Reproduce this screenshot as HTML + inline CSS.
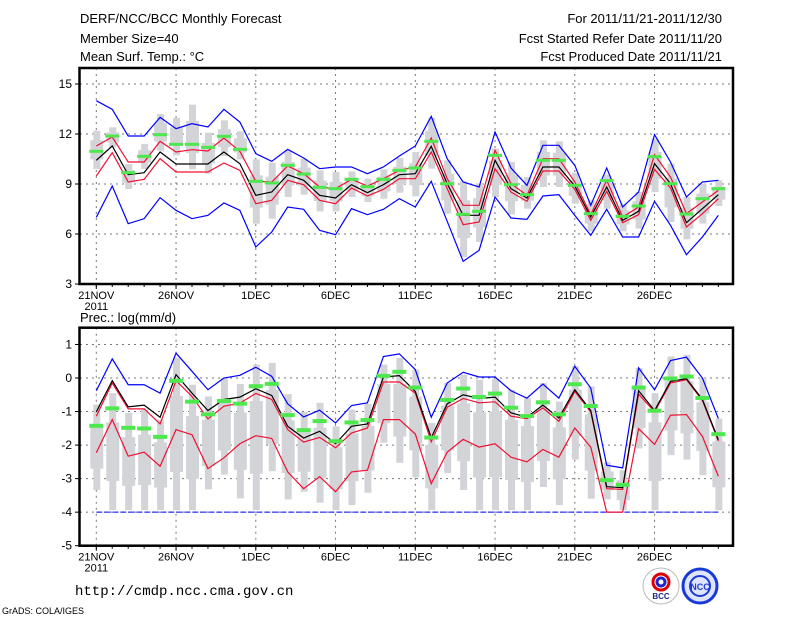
<!DOCTYPE html>
<html><head><meta charset="utf-8"><style>
body{margin:0;background:#fff;width:800px;height:618px;overflow:hidden}
svg{display:block;font-family:"Liberation Sans",sans-serif}
</style></head><body>
<svg id="c" width="800" height="618" viewBox="0 0 800 618">
<text x="80" y="23" font-size="13">DERF/NCC/BCC Monthly Forecast</text>
<text x="80" y="43" font-size="13">Member Size=40</text>
<text x="80" y="61" font-size="13">Mean Surf. Temp.: °C</text>
<text x="722" y="23" font-size="13" text-anchor="end">For 2011/11/21-2011/12/30</text>
<text x="722" y="43" font-size="13" text-anchor="end">Fcst Started Refer Date 2011/11/20</text>
<text x="722" y="61" font-size="13" text-anchor="end">Fcst Produced Date 2011/11/21</text>
<text x="80" y="322" font-size="13">Prec.: log(mm/d)</text>
<text x="75" y="595" font-size="14" font-family="Liberation Mono,monospace">http://cmdp.ncc.cma.gov.cn</text>
<text x="2" y="614" font-size="9">GrADS: COLA/IGES</text>
<g>
<circle cx="661" cy="586" r="18" fill="#fff" stroke="#bbb"/>
<circle cx="661" cy="582" r="8" fill="none" stroke="#d00" stroke-width="3"/>
<circle cx="661" cy="582" r="4" fill="none" stroke="#22c" stroke-width="3"/>
<text x="661" y="599" font-size="8" font-weight="bold" text-anchor="middle" fill="#1a2a8a">BCC</text></g>
<g>
<circle cx="700" cy="586" r="17" fill="#dfe5ff" stroke="#1a3ad8" stroke-width="3"/>
<circle cx="700" cy="586" r="10" fill="none" stroke="#1a3ad8" stroke-width="2"/>
<text x="700" y="590" font-size="9" font-weight="bold" text-anchor="middle" fill="#1a3ad8">NCC</text></g>
</svg>
<script>
const days=["21NOV","26NOV","1DEC","6DEC","11DEC","16DEC","21DEC","26DEC"];
const tBlueTop=[14.0,13.48,11.88,11.88,13.0,12.32,12.62,12.42,13.48,12.72,10.82,10.36,11.08,10.56,9.92,10.02,10.02,9.62,10.02,10.68,11.28,13.06,10.52,9.12,8.82,12.12,9.96,8.92,11.32,11.32,10.12,7.72,9.96,7.62,8.52,11.96,10.32,8.22,9.12,9.22];
const tRedTop=[11.28,11.82,10.32,10.32,11.56,10.92,11.06,10.98,11.76,10.96,9.16,9.12,10.08,9.62,8.82,8.72,9.28,8.88,9.32,9.82,10.02,11.76,9.32,7.72,7.72,11.02,9.02,8.32,10.52,10.52,9.12,7.16,9.22,7.02,7.62,10.76,9.42,7.22,7.92,8.62];
const tMean=[10.42,11.28,9.56,9.68,10.92,10.2,10.2,10.2,10.92,10.22,8.32,8.52,9.56,9.22,8.32,8.16,8.96,8.48,8.96,9.56,9.62,11.26,9.02,7.12,7.12,10.42,8.72,8.16,10.02,10.02,8.88,7.02,8.82,6.82,7.36,10.22,9.02,6.68,7.52,8.36];
const tRedBot=[9.48,10.88,9.12,9.28,10.52,9.72,9.72,9.72,10.26,9.82,7.82,8.02,9.22,8.96,8.02,7.82,8.76,8.28,8.68,9.32,9.32,10.92,8.72,6.56,6.72,9.92,8.52,7.96,9.78,9.78,8.68,6.82,8.56,6.68,7.16,9.88,8.76,6.42,7.22,8.12];
const tBlueBot=[7.0,8.88,6.62,6.92,8.18,7.42,6.92,7.12,7.86,7.42,5.22,6.12,7.62,7.48,6.22,5.96,7.52,7.16,7.48,8.12,7.62,9.16,6.76,4.36,5.02,8.22,6.96,6.88,8.28,8.36,7.12,5.92,7.48,5.82,5.82,7.96,6.52,4.76,5.82,7.12];
const tObs=[10.96,11.88,9.68,10.66,11.96,11.38,11.38,11.2,11.86,11.08,9.16,9.06,10.12,9.6,8.8,8.72,9.28,8.84,9.28,9.82,9.96,11.56,9.02,7.18,7.36,10.72,8.96,8.36,10.42,10.42,8.92,7.22,9.2,7.06,7.68,10.64,9.02,7.2,8.12,8.72];
const tBarHi=[12.2,12.4,10.2,11.4,13.2,12.96,13.76,12.08,12.82,12.16,10.48,10.28,11.02,10.52,9.82,9.72,9.76,9.32,9.88,10.56,10.92,12.96,10.42,9.16,9.02,11.12,10.32,9.42,11.62,11.56,9.68,8.02,9.56,7.82,8.52,11.72,10.22,8.22,9.02,9.22];
const tBarLo=[9.9,11.2,8.7,9.9,11.0,10.72,9.88,9.62,10.68,10.48,6.62,6.92,8.22,8.36,7.36,7.36,8.22,7.92,8.12,8.48,8.26,9.92,7.22,4.62,5.52,8.22,7.18,7.52,8.82,8.82,7.82,6.16,7.52,6.16,6.32,8.52,6.72,5.68,6.62,7.68];
const pBlueTop=[-0.38,0.57,-0.2,-0.2,-0.45,0.74,0.2,-0.35,0,0.08,0.32,0.05,-0.77,-1.16,-0.96,-1.34,-0.82,-0.74,0.64,0.72,0.25,-1.17,-0.15,0.17,0.03,0.03,-0.38,-0.6,-0.18,-0.6,0.35,-0.3,-2.6,-2.68,0.3,-0.35,0.52,0.62,0,-1.21];
const pMean=[-1.01,-0.08,-0.86,-0.81,-1.17,0.1,-0.45,-0.97,-0.64,-0.57,-0.32,-0.52,-1.44,-1.79,-1.59,-1.96,-1.44,-1.37,0.03,0.07,-0.4,-1.78,-0.77,-0.5,-0.61,-0.57,-1.04,-1.17,-0.81,-1.19,-0.35,-0.97,-3.24,-3.27,-0.38,-0.97,-0.1,-0.02,-0.64,-1.84];
const pRedTop=[-1.14,-0.15,-0.92,-0.92,-1.37,-0.08,-0.55,-1.22,-0.84,-0.75,-0.46,-0.64,-1.54,-1.91,-1.77,-2.08,-1.64,-1.49,-0.12,-0.12,-0.45,-1.9,-0.87,-0.61,-0.74,-0.71,-1.14,-1.21,-0.89,-1.29,-0.4,-1.01,-3.3,-3.32,-0.48,-1.01,-0.15,-0.05,-0.67,-1.88];
const pRedBot=[-2.23,-1.24,-2.33,-2.21,-2.63,-1.54,-1.69,-2.7,-2.38,-1.96,-1.72,-1.8,-2.8,-3.3,-2.94,-3.39,-2.8,-2.75,-1.24,-1.24,-1.67,-3.15,-2.21,-1.83,-2.06,-1.96,-2.36,-2.5,-2.13,-2.36,-1.49,-2.06,-4,-4,-1.51,-1.98,-1.11,-1.09,-1.74,-2.93];
const pObs=[-1.41,-0.89,-1.47,-1.49,-1.74,-0.07,-0.69,-1.07,-0.67,-0.75,-0.23,-0.16,-1.09,-1.54,-1.27,-1.87,-1.31,-1.24,0.08,0.2,-0.27,-1.76,-0.64,-0.3,-0.55,-0.45,-0.87,-1.12,-0.71,-1.07,-0.17,-0.82,-3.03,-3.17,-0.27,-0.96,0,0.06,-0.58,-1.66];
const pBarHi=[-0.79,-0.45,-1.04,-0.94,-1.24,0.6,-0.2,-0.55,0,-0.18,0.4,0.45,-0.48,-1.01,-0.74,-1.44,-0.94,-0.77,0.4,0.6,0.25,-1.34,-0.15,0.1,-0.05,-0.02,-0.35,-0.6,-0.15,-0.7,0.35,-0.25,-2.51,-2.75,0.3,-0.45,0.64,0.69,0,-1.21];
const pBarLo=[-3.34,-3.94,-3.94,-3.94,-3.94,-3.94,-3.94,-3.32,-2.88,-3.59,-3.94,-2.78,-3.62,-3.39,-3.72,-3.94,-3.79,-3.42,-1.93,-2.53,-2.96,-3.94,-2.83,-3.34,-3.94,-3.94,-3.94,-3.94,-3.25,-3.79,-2.43,-3.6,-3.62,-3.94,-2.1,-3.94,-2.3,-2.43,-2.9,-3.94];
const tTicks=[3,6,9,12,15];
const pTicks=[-5,-4,-3,-2,-1,0,1];

const S=document.getElementById('c');const NS='http://www.w3.org/2000/svg';
function mk(t,a,p){const e=document.createElementNS(NS,t);for(const k in a)e.setAttribute(k,a[k]);(p||S).appendChild(e);return e;}
const x=d=>96.3+15.95*d;
function panel(name,top,bot,vmin,vmax,ticks,series){
  const y=v=>bot-(v-vmin)/(vmax-vmin)*(bot-top);
  const g=mk('g',{});
  
  
  ticks.forEach(t=>{const yy=y(t);
    if(t>vmin&&t<vmax){const l=mk('line',{x1:80,x2:733,y1:yy,y2:yy,stroke:'#777','stroke-dasharray':'2,4'},g);}
    mk('line',{x1:75,x2:80,y1:yy,y2:yy,stroke:'#000'},g);
    const tx=mk('text',{x:72,y:yy+4,'font-size':12,'text-anchor':'end'},g);tx.textContent=t;
    
    });
  days.forEach((dl,i)=>{const xx=x(i*5);
    const l=mk('line',{x1:xx,x2:xx,y1:top,y2:bot,stroke:'#777','stroke-dasharray':'2,4'},g);
    
    
    mk('line',{x1:xx,x2:xx,y1:bot,y2:bot+5,stroke:'#000'},g);
    const tx=mk('text',{x:xx,y:bot+15,'font-size':11,'text-anchor':'middle'},g);tx.textContent=dl;
    
    });
  for(let d=0;d<40;d++){mk('line',{x1:x(d),x2:x(d),y1:bot,y2:bot+3,stroke:'#000'},g);}
  const yr=mk('text',{x:x(0),y:bot+26,'font-size':11,'text-anchor':'middle'},g);yr.textContent='2011';
  
  
  // bars
  series.hi.forEach((h,i)=>{const lo=series.lo[i];const m=(h+lo)/2,q=(h-lo)/4;
    const r1=mk('rect',{x:x(i)-3,y:y(h),width:7,height:y(lo)-y(h),fill:'#d3d4d8'},g);
    
    
    mk('rect',{x:x(i)-6,y:y(m+q),width:13,height:y(m-q)-y(m+q),fill:'#d3d4d8'},g);});
  if(series.floor!==undefined){const l=mk('line',{x1:x(0),x2:x(39),y1:y(series.floor),y2:y(series.floor),stroke:'#00f','stroke-dasharray':'6,2'},g);
    }
  series.lines.forEach(([arr,col,nm])=>{
    const p=mk('polyline',{points:arr.map((v,i)=>x(i)+','+y(v)).join(' '),fill:'none',stroke:col,'stroke-width':1.2},g);
    
    });
  series.obs.forEach((v,i)=>{const r=mk('rect',{x:x(i)-7,y:y(v)-1.5,width:14,height:series.gh,fill:'#4de84d'},g);
    
    });
  const b=mk('rect',{x:79.5,y:top,width:653.5,height:bot-top,fill:'none',stroke:'#000','stroke-width':2.5},g);
  
  
}
panel('temperature-panel',68,284,3,15.96,tTicks,{hi:tBarHi,lo:tBarLo,obs:tObs,gh:3,
  lines:[[tBlueTop,'#0000ff','max-line'],[tBlueBot,'#0000ff','min-line'],[tRedTop,'#ee1133','upper-line'],[tRedBot,'#ee1133','lower-line'],[tMean,'#000','ensemble-mean-line']]});
panel('precip-panel',327.7,545.7,-5,1.5,pTicks,{hi:pBarHi,lo:pBarLo,obs:pObs,gh:4,floor:-4,
  lines:[[pBlueTop,'#0000ff','max-line'],[pRedTop,'#ee1133','upper-line'],[pRedBot,'#ee1133','lower-line'],[pMean,'#000','ensemble-mean-line']]});
</script>
</body></html>
